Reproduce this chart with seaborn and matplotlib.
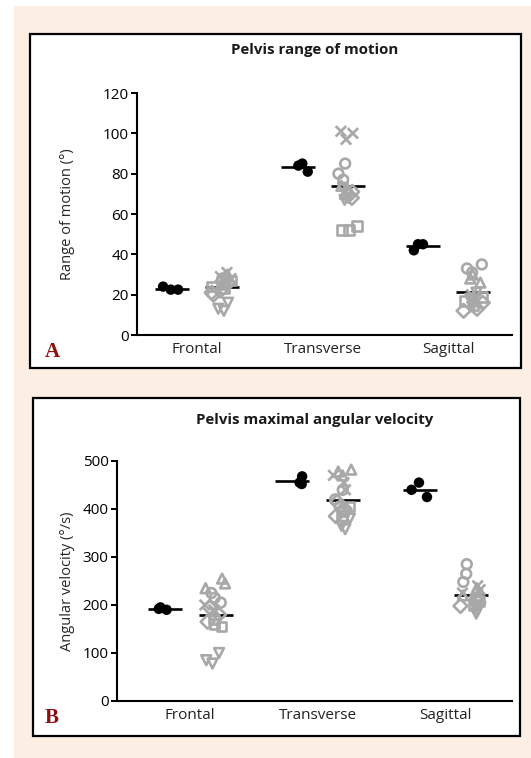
import numpy as np
import pandas as pd
import matplotlib
matplotlib.use("Agg")
import matplotlib.pyplot as plt
import seaborn as sns
from matplotlib.patches import Rectangle

# ---- data ----
categories = ["Frontal", "Transverse", "Sagittal"]
groups = ["control", "patients"]
grey_shapes = ["o"] * 3 + ["s"] * 3 + ["^"] * 3 + ["v"] * 3 + ["x"] * 3 + ["D"] * 3

# A: pelvis range of motion (deg)
rom_black_frontal = [24, 22.5, 22.5]
rom_black_transverse = [85, 81, 84]
rom_black_sagittal = [45, 42, 45]
rom_grey_frontal = [28, 27, 26, 27, 24, 23, 30, 26, 25, 16, 13, 12, 31, 29, 28, 22, 21, 20]
rom_grey_transverse = [85, 80, 77, 54, 52, 52, 74, 72, 70, 73, 70, 67, 101, 100, 97, 71, 69, 68]
rom_grey_sagittal = [35, 33, 31, 19, 17, 15, 30, 28, 26, 21, 18, 14, 20, 18, 16, 16, 13, 12]
rom_ticks = [0, 20, 40, 60, 80, 100, 120]

# B: pelvis maximal angular velocity (deg/s)
vel_black_frontal = [195, 190, 192]
vel_black_transverse = [468, 452, 455]
vel_black_sagittal = [455, 425, 440]
vel_grey_frontal = [225, 215, 205, 170, 160, 155, 255, 245, 235, 100, 85, 78, 200, 190, 185, 195, 180, 165]
vel_grey_transverse = [440, 420, 405, 405, 395, 385, 482, 478, 470, 380, 365, 358, 470, 455, 440, 415, 400, 385]
vel_grey_sagittal = [285, 265, 248, 215, 208, 200, 235, 228, 220, 195, 188, 182, 240, 232, 225, 212, 205, 198]
vel_ticks = [0, 100, 200, 300, 400, 500]

GREY = "#a8a8a8"
PEACH = "#fdeee4"
W, H = 531, 758


def build(blacks, greys):
    rows = []
    for cat, b, g in zip(categories, blacks, greys):
        rows += [(cat, "control", "o", v) for v in b]
        rows += [(cat, "patients", m, v) for m, v in zip(grey_shapes, g)]
    return pd.DataFrame(rows, columns=["plane", "group", "marker", "value"])


df_rom = build([rom_black_frontal, rom_black_transverse, rom_black_sagittal],
               [rom_grey_frontal, rom_grey_transverse, rom_grey_sagittal])
df_vel = build([vel_black_frontal, vel_black_transverse, vel_black_sagittal],
               [vel_grey_frontal, vel_grey_transverse, vel_grey_sagittal])

sns.set_style("ticks")
plt.rcParams["font.family"] = ["Open Sans", "DejaVu Sans"]
np.random.seed(7)  # jitter only

fig = plt.figure(figsize=(W / 100, H / 100), dpi=100, facecolor="white")


def px_rect(x0, y0, x1, y1):
    return (x0 / W, 1 - y1 / H, (x1 - x0) / W, (y1 - y0) / H)


def fig_box(x0, y0, x1, y1, **kw):
    l, b, w, h = px_rect(x0, y0, x1, y1)
    fig.add_artist(Rectangle((l, b), w, h, transform=fig.transFigure, **kw))


# background + panel frames
fig_box(14, 6, 531, 758, facecolor=PEACH, edgecolor="none", zorder=-3)
fig_box(30, 34, 521, 368, facecolor="white", edgecolor="black", linewidth=1.6, zorder=-2)
fig_box(33, 398, 520, 736, facecolor="white", edgecolor="black", linewidth=1.6, zorder=-2)


def draw_panel(ax, df):
    sns.stripplot(data=df[df.group == "control"], x="plane", y="value", hue="group",
                  order=categories, hue_order=groups, palette=["black", GREY],
                  dodge=True, jitter=0.17, size=7.5, marker="o", linewidth=0,
                  legend=False, ax=ax)
    for m in ["o", "s", "^", "v", "x", "D"]:
        sub = df[(df.group == "patients") & (df.marker == m)]
        n0 = len(ax.collections)
        sns.stripplot(data=sub, x="plane", y="value", hue="group",
                      order=categories, hue_order=groups, palette=["black", GREY],
                      dodge=True, jitter=0.17, size=7 if m != "x" else 7.5, marker=m,
                      legend=False, ax=ax)
        for coll in ax.collections[n0:]:
            coll.set_facecolor("none")
            coll.set_edgecolor(GREY)
            coll.set_linewidth(1.9)
    # group means as short horizontal bars
    sns.pointplot(data=df, x="plane", y="value", hue="group", order=categories,
                  hue_order=groups, palette=["black", "black"], dodge=0.4,
                  errorbar=None, marker="_", markersize=24, markeredgewidth=1.9,
                  linestyle="none", legend=False, ax=ax)
    ax.set_facecolor("none")
    sns.despine(ax=ax)
    for s in ["left", "bottom"]:
        ax.spines[s].set_linewidth(1.5)
        ax.spines[s].set_color("black")
    ax.tick_params(axis="y", length=4, width=1.4, labelsize=11, colors="black", pad=2)
    ax.tick_params(axis="x", length=0, labelsize=11, colors="#222222", pad=5)
    ax.set_xlabel("")


# panel A
axA = fig.add_axes([137 / W, 1 - 335 / H, 375 / W, 242 / H])
draw_panel(axA, df_rom)
axA.set_ylim(0, 120)
axA.set_yticks(rom_ticks)
axA.set_xlim(-0.48, 2.51)
axA.set_ylabel("Range of motion (°)", fontsize=10.5)
axA.yaxis.set_label_coords(-0.165, 0.5)
fig.text(315 / W, 1 - 50 / H, "Pelvis range of motion", ha="center", va="center",
         fontsize=10.8, fontweight="bold", color="#1a1a1a")
fig.text(52 / W, 1 - 352 / H, "A", ha="center", va="center", fontsize=15,
         fontweight="bold", color="#8b1010", family="Liberation Serif")

# panel B
axB = fig.add_axes([117 / W, 1 - 701 / H, 395 / W, 240 / H])
draw_panel(axB, df_vel)
axB.set_ylim(0, 500)
axB.set_yticks(vel_ticks)
axB.set_xlim(-0.573, 2.525)
axB.set_ylabel("Angular velocity (°/s)", fontsize=10.5)
axB.yaxis.set_label_coords(-0.106, 0.5)
fig.text(315 / W, 1 - 420 / H, "Pelvis maximal angular velocity", ha="center", va="center",
         fontsize=10.8, fontweight="bold", color="#1a1a1a")
fig.text(52 / W, 1 - 718 / H, "B", ha="center", va="center", fontsize=15,
         fontweight="bold", color="#8b1010", family="Liberation Serif")

fig.savefig("out.png", dpi=100, facecolor=fig.get_facecolor())
